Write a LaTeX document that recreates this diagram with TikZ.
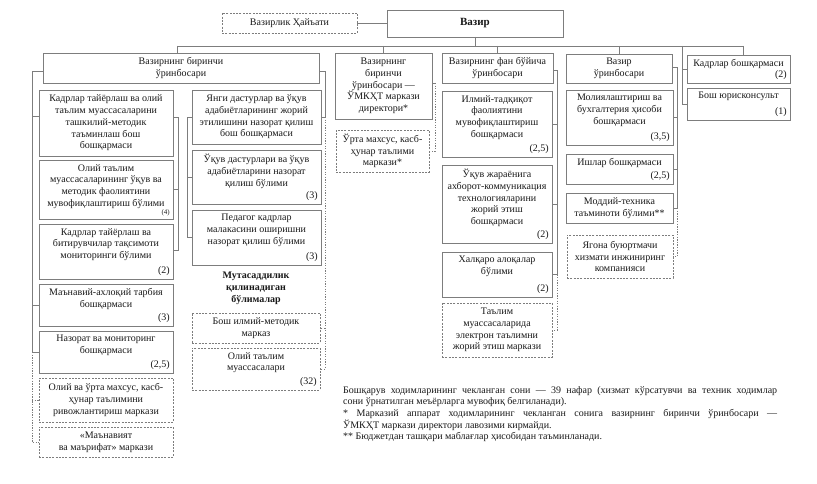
\documentclass[tikz,border=0pt]{standalone}
\usepackage{fontspec}
\setmainfont{Liberation Serif}
\definecolor{linec}{RGB}{125,125,125}
\definecolor{txtc}{RGB}{25,25,25}
\newcommand\fs{\fontsize{10}{11.7}\selectfont}
\newcommand\fsmall{\fontsize{7}{8}\selectfont}
\tikzset{
  bx/.style={draw=linec, line width=0.9pt, inner sep=0pt, outer sep=0pt},
  dbx/.style={bx, dash pattern=on 2pt off 1.3pt},
  conn/.style={draw=linec, line width=0.8pt},
  dconn/.style={conn, dash pattern=on 1.3pt off 1.3pt},
  txt/.style={align=center, inner sep=0pt, font=\fs, text=txtc},
  num/.style={inner sep=0pt, font=\fs, text=txtc},
}
\newcommand\mkbox[7]{%
  \pgfmathsetmacro\mybw{#4-#2}\pgfmathsetmacro\mybh{#5-#3}%
  \node[#6, minimum width=\mybw pt, minimum height=\mybh pt, anchor=north west] (#1) at (#2,#3) {};%
  \node[txt] at (#1.center) {#7};}
\newcommand\mknbox[8]{%
  \pgfmathsetmacro\mybw{#4-#2}\pgfmathsetmacro\mybh{#5-#3}%
  \node[#6, minimum width=\mybw pt, minimum height=\mybh pt, anchor=north west] (#1) at (#2,#3) {};%
  \node[txt, anchor=north] at ([yshift=-4pt]#1.north) {#7};%
  \node[num, anchor=south east] at ([xshift=-3pt,yshift=3pt]#1.south east) {#8};}
\begin{document}
\begin{tikzpicture}[x=1pt,y=-1pt]
\useasboundingbox (0,0) rectangle (817,484);
\fill[white] (0,0) rectangle (817,484);
% top
\mkbox{vazir}{387}{10}{563}{37}{bx}{\fontsize{11}{12}\selectfont\bfseries Вазир}
\mkbox{hayat}{222}{13}{357}{33}{dbx}{Вазирлик Ҳайъати}
% heads
\mkbox{d1}{43}{53}{319}{83}{bx}{Вазирнинг биринчи\\ўринбосари}
\mkbox{d2}{335}{53}{432}{119}{bx}{Вазирнинг\\биринчи\\ўринбосари —\\ЎМКҲТ маркази\\директори*}
\mkbox{d3}{442}{53}{553}{83}{bx}{Вазирнинг фан бўйича\\ўринбосари}
\mkbox{d4}{566}{54}{672}{83}{bx}{Вазир\\ўринбосари}
\mknbox{k1}{687}{55}{790}{83}{bx}{Кадрлар бошқармаси}{(2)}
\mknbox{k2}{687}{88}{790}{120}{bx}{Бош юрисконсульт}{(1)}
% left sub column
\mkbox{a1}{39}{90}{173}{156}{bx}{Кадрлар тайёрлаш ва олий\\таълим муассасаларини\\ташкилий-методик\\таъминлаш бош\\бошқармаси}
\mknbox{a2}{39}{160}{173}{219}{bx}{Олий таълим\\муассасаларининг ўқув ва\\методик фаолиятини\\мувофиқлаштириш бўлими}{\fsmall (4)}
\mknbox{a3}{39}{224}{173}{279}{bx}{Кадрлар тайёрлаш ва\\битирувчилар тақсимоти\\мониторинги бўлими}{(2)}
\mknbox{a4}{39}{284}{173}{326}{bx}{Маънавий-ахлоқий тарбия\\бошқармаси}{(3)}
\mknbox{a5}{39}{331}{173}{373}{bx}{Назорат ва мониторинг\\бошқармаси}{(2,5)}
\mkbox{a6}{39}{378}{173}{422}{dbx}{Олий ва ўрта махсус, касб-\\ҳунар таълимини\\ривожлантириш маркази}
\mkbox{a7}{39}{427}{173}{457}{dbx}{«Маънавият\\ва маърифат» маркази}
% right sub column
\mkbox{b1}{192}{90}{321}{144}{bx}{Янги дастурлар ва ўқув\\адабиётларининг жорий\\этилишини назорат қилиш\\бош бошқармаси}
\mknbox{b2}{192}{150}{321}{204}{bx}{Ўқув дастурлари ва ўқув\\адабиётларини назорат\\қилиш бўлими}{(3)}
\mknbox{b3}{192}{210}{321}{265}{bx}{Педагог кадрлар\\малакасини оширишни\\назорат қилиш бўлими}{(3)}
\node[txt, font=\fs\bfseries] (lab) at (256,288.5) {Мутасаддилик\\қилинадиган\\бўлималар};
\mkbox{b4}{192}{313}{320}{343}{dbx}{Бош илмий-методик\\марказ}
\mknbox{b5}{192}{348}{320}{390}{dbx}{Олий таълим\\муассасалари}{(32)}
% middle
\mkbox{c1}{336}{130}{429}{172}{dbx}{Ўрта махсус, касб-\\ҳунар таълими\\маркази*}
% fan
\mknbox{e1}{442}{91}{552}{157}{bx}{Илмий-тадқиқот\\фаолиятини\\мувофиқлаштириш\\бошқармаси}{(2,5)}
\mknbox{e2}{442}{165}{552}{243}{bx}{Ўқув жараёнига\\ахборот-коммуникация\\технологияларини\\жорий этиш\\бошқармаси}{(2)}
\mknbox{e3}{442}{252}{552}{297}{bx}{Халқаро алоқалар\\бўлими}{(2)}
\mkbox{e4}{442}{303}{552}{357}{dbx}{Таълим\\муассасаларида\\электрон таълимни\\жорий этиш маркази}
% vazir o'rinbosari
\mknbox{f1}{566}{90}{673}{145}{bx}{Молиялаштириш ва\\бухгалтерия ҳисоби\\бошқармаси}{(3,5)}
\mknbox{f2}{566}{154}{673}{184}{bx}{Ишлар бошқармаси}{(2,5)}
\mkbox{f3}{566}{193}{673}{223}{bx}{Моддий-техника\\таъминоти бўлими**}
\mkbox{f4}{567}{235}{673}{278}{dbx}{Ягона буюртмачи\\хизмати инжиниринг\\компанияси}
% notes
\node[txt, align=left, anchor=north west] (notes) at (343,386) {%
\makebox[434pt][s]{Бошқарув ходимларининг чекланган сони — 39 нафар (хизмат кўрсатувчи ва техник ходимлар}\\
сони ўрнатилган меъёрларга мувофиқ белгиланади).\\
\makebox[434pt][s]{* Марказий аппарат ходимларининг чекланган сонига вазирнинг биринчи ўринбосари —}\\
ЎМКҲТ маркази директори лавозими кирмайди.\\
** Бюджетдан ташқари маблағлар ҳисобидан таъминланади.};
% connectors
\coordinate (busL) at (177,46);
\coordinate (busR) at (743,46);
\draw[conn] (hayat.east) -- (hayat.east -| vazir.west);
\draw[conn] (vazir.south) -- (vazir.south |- busL);
\draw[conn] (busL) -- (busR);
\draw[conn] (busL) -- (busL |- d1.north);
\draw[conn] (d2.north |- busL) -- (d2.north);
\draw[conn] (d3.north |- busL) -- (d3.north);
\draw[conn] (d4.north |- busL) -- (d4.north);
\draw[conn] (busR) -- (busR |- k1.north);
\coordinate (RE) at (682,0);
\draw[conn] (RE |- busL) |- (k2.west);
\draw[conn] (RE |- k1.west) -- (k1.west);
% first deputy left
\coordinate (LL) at (32,0);
\draw[conn] (d1.west |- 0,71) -| (LL |- a5.west) -- (a5.west);
\draw[conn] (LL |- 0,116) -- (a1.west |- 0,116);
\draw[conn] (LL |- a4.west) -- (a4.west);
\draw[dconn] (LL |- a5.west) -- (LL |- a7.west) -- (a7.west);
\draw[dconn] (LL |- a6.west) -- (a6.west);
\coordinate (LA) at (178,0);
\draw[conn] (a1.east |- 0,117) -- (LA |- 0,117) -- (LA |- 0,250) -- (a3.east |- 0,250);
\draw[conn] (LA |- a2.east) -- (a2.east);
\coordinate (LB) at (187,0);
\draw[conn] (b1.west) -| (LB |- b3.west) -- (b3.west);
\draw[conn] (LB |- b2.west) -- (b2.west);
\coordinate (RA) at (325,0);
\draw[conn] (d1.east |- 0,71) -| (RA |- b1.east) -- (b1.east);
\draw[dconn] (RA |- b1.east) -- (RA |- b5.east) -- (b5.east);
\draw[dconn] (RA |- b4.east) -- (b4.east);
% second
\coordinate (RB) at (435,0);
\draw[conn] (d2.east |- 0,83) -- (RB |- 0,83);
\draw[dconn] (RB |- 0,83) |- (c1.east);
% fan
\coordinate (RC) at (557,0);
\draw[conn] (d3.east |- 0,70) -| (RC |- e3.east) -- (e3.east);
\draw[conn] (RC |- e1.east) -- (e1.east);
\draw[conn] (RC |- e2.east) -- (e2.east);
\draw[dconn] (RC |- e3.east) |- (e4.east);
% vazir o'rinbosari
\coordinate (RD) at (677,0);
\draw[conn] (d4.east |- 0,67) -| (RD |- f3.east) -- (f3.east);
\draw[conn] (RD |- f1.east) -- (f1.east);
\draw[conn] (RD |- f2.east) -- (f2.east);
\draw[dconn] (RD |- f3.east) |- (f4.east);
\end{tikzpicture}
\end{document}
